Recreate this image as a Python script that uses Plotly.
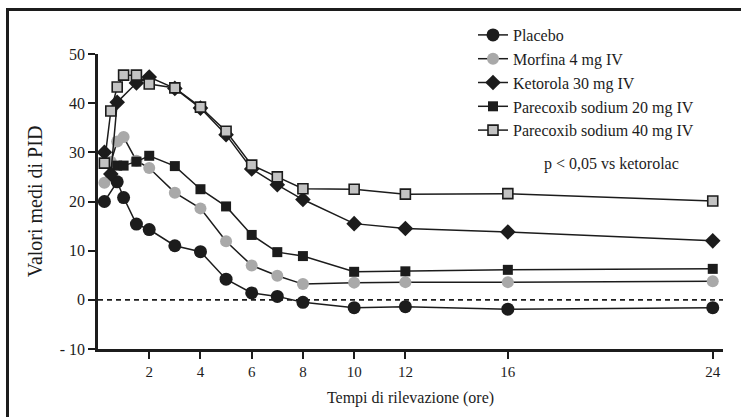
import plotly.graph_objects as go

# ---- data ----
series_names = ["Placebo", "Morfina 4 mg IV", "Ketorola 30 mg IV",
                "Parecoxib sodium 20 mg IV", "Parecoxib sodium 40 mg IV"]

placebo_t = [0.25, 0.75, 1, 1.5, 2, 3, 4, 5, 6, 7, 8, 10, 12, 16, 24]
placebo_v = [20.0, 24.0, 20.8, 15.4, 14.3, 11.0, 9.8, 4.2, 1.4, 0.7, -0.5, -1.6, -1.4, -1.9, -1.6]

morfina_t = [0.25, 0.5, 0.75, 1, 1.5, 2, 3, 4, 5, 6, 7, 8, 10, 12, 16, 24]
morfina_v = [23.8, 28.1, 32.2, 33.1, 28.3, 26.8, 21.8, 18.6, 11.9, 7.0, 4.9, 3.2, 3.5, 3.6, 3.6, 3.8]

ketorola_t = [0.25, 0.5, 0.75, 1.5, 2, 3, 4, 5, 6, 7, 8, 10, 12, 16, 24]
ketorola_v = [30.0, 25.6, 40.2, 44.1, 45.3, 43.0, 39.0, 33.6, 26.6, 23.4, 20.4, 15.5, 14.5, 13.8, 12.0]

parec20_t = [0.75, 1, 1.5, 2, 3, 4, 5, 6, 7, 8, 10, 12, 16, 24]
parec20_v = [27.3, 27.3, 28.1, 29.3, 27.2, 22.5, 19.0, 13.2, 9.7, 8.9, 5.7, 5.8, 6.1, 6.3]

parec40_t = [0.25, 0.5, 0.75, 1, 1.5, 2, 3, 4, 5, 6, 7, 8, 10, 12, 16, 24]
parec40_v = [27.8, 38.4, 43.3, 45.7, 45.7, 43.9, 43.1, 39.2, 34.3, 27.4, 25.0, 22.6, 22.5, 21.5, 21.6, 20.1]

x_ticks = [2, 4, 6, 8, 10, 12, 16, 24]
y_ticks = [-10, 0, 10, 20, 30, 40, 50]
y_tick_text = ["- 10", "0", "10", "20", "30", "40", "50"]
note_text = "p < 0,05 vs ketorolac"

FONT = "Liberation Serif, Times New Roman, serif"
INK = "#1c1c1c"

styles = [
    dict(symbol="circle", size=13, color=INK, line=dict(width=0)),
    dict(symbol="circle", size=12, color="#a9a9a9", line=dict(width=0)),
    dict(symbol="diamond", size=12, color=INK, line=dict(width=0)),
    dict(symbol="square", size=10, color=INK, line=dict(width=0)),
    dict(symbol="square", size=10, color="#c3c3c3", line=dict(width=1.6, color=INK)),
]
data = [(placebo_t, placebo_v), (morfina_t, morfina_v), (ketorola_t, ketorola_v),
        (parec20_t, parec20_v), (parec40_t, parec40_v)]

fig = go.Figure()

# zero reference line
fig.add_trace(go.Scatter(x=[0, 24.4], y=[0, 0], mode="lines",
                         line=dict(color=INK, width=1.6, dash="5px,4px"),
                         showlegend=False, hoverinfo="skip"))

for i, (name, (t, v), st) in enumerate(zip(series_names, data, styles)):
    fig.add_trace(go.Scatter(x=t, y=v, mode="lines+markers", name=name,
                             legendgroup=f"g{i}",
                             line=dict(color=INK, width=1.5),
                             marker=st))

# plot area geometry (px)
L, R, T, B = 98, 18, 54, 68
W, H = 741, 417
pw, ph = W - L - R, H - T - B

def px_x(p):
    return (p - L) / pw

def px_y(p):
    return (H - B - p) / ph

# outer frame (top and left only)
fig.add_shape(type="line", xref="paper", yref="paper",
              x0=px_x(6), x1=px_x(741), y0=px_y(9.5), y1=px_y(9.5),
              line=dict(color=INK, width=3))
fig.add_shape(type="line", xref="paper", yref="paper",
              x0=px_x(7.5), x1=px_x(7.5), y0=px_y(8), y1=px_y(417),
              line=dict(color=INK, width=3))

fig.add_annotation(x=20.05, y=27.7, xref="x", yref="y", text=note_text,
                   showarrow=False, font=dict(family=FONT, size=16, color=INK))

fig.update_layout(
    width=W, height=H,
    margin=dict(l=L, r=R, t=T, b=B),
    paper_bgcolor="white", plot_bgcolor="white",
    font=dict(family=FONT, color=INK),
    legend=dict(x=px_x(473), y=px_y(18), xanchor="left", yanchor="top",
                font=dict(family=FONT, size=16, color=INK),
                bgcolor="rgba(0,0,0,0)", tracegroupgap=0,
                itemclick=False),
    xaxis=dict(range=[0, 24.4], tickvals=x_ticks, showgrid=False, zeroline=False,
               showline=True, linecolor=INK, linewidth=2.5,
               ticks="outside", ticklen=7, tickwidth=2, tickcolor=INK,
               tickfont=dict(family=FONT, size=15, color=INK),
               title=dict(text="Tempi di rilevazione (ore)", standoff=14,
                          font=dict(family=FONT, size=16, color=INK))),
    yaxis=dict(range=[-10, 50], tickvals=y_ticks, ticktext=y_tick_text,
               showgrid=False, zeroline=False,
               showline=True, linecolor=INK, linewidth=2.5,
               ticks="outside", ticklen=7, tickwidth=2, tickcolor=INK,
               tickfont=dict(family=FONT, size=16, color=INK),
               title=dict(text="Valori medi di PID", standoff=12,
                          font=dict(family=FONT, size=20, color=INK))),
)

fig.write_html("out.html")
